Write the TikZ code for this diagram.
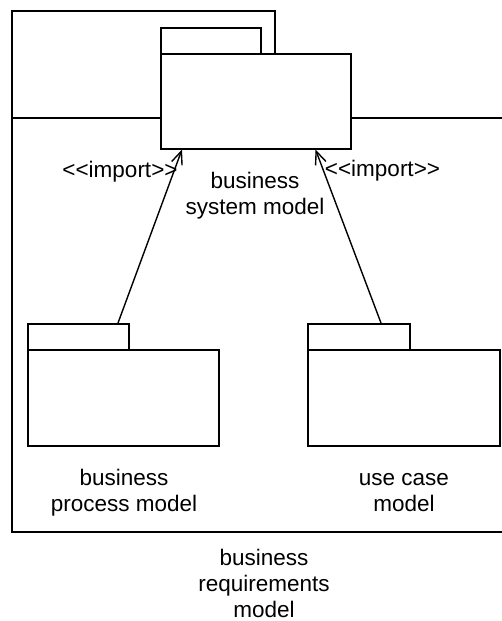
\documentclass[tikz,border=0pt]{standalone}
\usepackage{fontspec}
\setmainfont{Liberation Sans}
\usetikzlibrary{arrows.meta,calc}

\tikzset{
  part/.style={draw, fill=white, line width=1.5pt, rectangle, inner sep=0pt, anchor=north west},
  lbl/.style={font=\fontsize{22.5}{26}\selectfont, align=center, inner sep=0pt, anchor=north},
  stereo/.style={font=\fontsize{22.5}{26}\selectfont, inner sep=0pt, anchor=base},
  imp/.style={line width=1.4pt, -{Straight Barb[length=13pt,width=11pt,line width=1.4pt]}}
}

\begin{document}
\begin{tikzpicture}[x=1pt,y=-1pt]
  \useasboundingbox (0,0) rectangle (502,621);
  \clip (0,0) rectangle (502,621);

  % enclosing package: business requirements model
  \node[part, minimum width=263, minimum height=107] (brmtab) at (11,10) {};
  \node[part, minimum width=520, minimum height=414] (brm) at (11,117) {};

  % business system model
  \node[part, minimum width=100, minimum height=26] (bsmtab) at (160,27) {};
  \node[part, minimum width=190, minimum height=95] (bsm) at (160,53) {};

  % business process model
  \node[part, minimum width=101, minimum height=26] (bpmtab) at (27,323) {};
  \node[part, minimum width=191, minimum height=96] (bpm) at (27,349) {};

  % use case model
  \node[part, minimum width=102, minimum height=26] (ucmtab) at (307,323) {};
  \node[part, minimum width=192, minimum height=96] (ucm) at (307,349) {};

  % import dependencies
  \draw[imp] ($(bpmtab.north west)+(91,0)$) -- ($(bsm.south west)+(22,0)$);
  \draw[imp] ($(ucmtab.north west)+(74,0)$) -- ($(bsm.south east)+(-36,0)$);

  % labels
  \node[stereo] (impl) at (120,177) {<{}<import>{}>};
  \node[stereo] (impr) at (382.5,176) {<{}<import>{}>};
  \node[lbl] (bsmlbl) at (255,169.8) {\strut business\\system model};
  \node[lbl] (bpmlbl) at (124,466.8) {\strut business\\process model};
  \node[lbl] (ucmlbl) at (404,466.8) {\strut use case\\model};
  \node[lbl] (brmlbl) at (264,547.5) {\strut business\\requirements\\model};
\end{tikzpicture}
\end{document}
